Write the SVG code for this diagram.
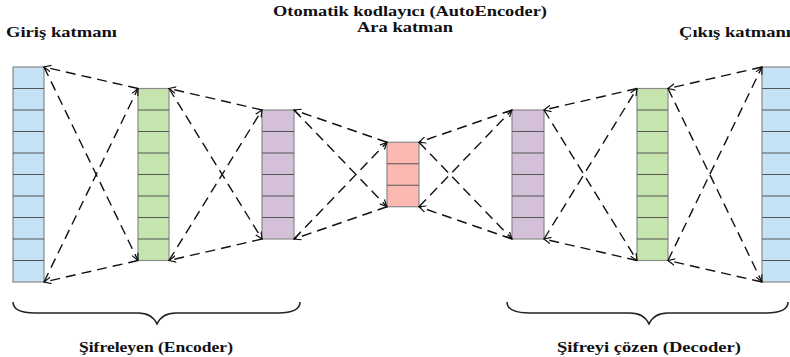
<svg xmlns="http://www.w3.org/2000/svg" width="790" height="357" viewBox="0 0 790 357">
<style>
text{font-family:"Liberation Serif","Times New Roman",serif;font-weight:bold;font-size:14px;fill:#111}
.cell{stroke:#8a8a8a;stroke-width:1.2}
.div{stroke:#555;stroke-width:1}
.blue{fill:#c3e2f5}.green{fill:#c6e5ae}.purple{fill:#d5c0d9}.red{fill:#fbb9b1}
.dash{stroke:#111;stroke-width:1.4;stroke-dasharray:10 6;fill:none;marker-end:url(#ah)}
.brace{fill:none;stroke:#222;stroke-width:1.5}
</style>
<defs>
<marker id="ah" markerWidth="8" markerHeight="8" refX="7" refY="4" orient="auto" markerUnits="userSpaceOnUse">
<path d="M0,0.8 L7,4 L0,7.2" fill="none" stroke="#111" stroke-width="1.2"/>
</marker>
</defs>
<g id="title">
<text x="273" y="16" textLength="274" lengthAdjust="spacingAndGlyphs">Otomatik kodlayıcı (AutoEncoder)</text>
<text x="357" y="32" textLength="96" lengthAdjust="spacingAndGlyphs">Ara katman</text>
</g>
<g id="input-label"><text x="6" y="37" textLength="111" lengthAdjust="spacingAndGlyphs">Giriş katmanı</text></g>
<g id="output-label"><text x="679" y="37" textLength="112" lengthAdjust="spacingAndGlyphs">Çıkış katmanı</text></g>
<g id="layer-input">
<rect class="cell blue" x="13" y="67" width="31" height="215"/>
<path class="div" d="M13,88.5H44M13,110H44M13,131.5H44M13,153H44M13,174.5H44M13,196H44M13,217.5H44M13,239H44M13,260.5H44"/>
</g>
<g id="layer-enc1">
<rect class="cell green" x="138" y="88.5" width="31" height="172"/>
<path class="div" d="M138,110H169M138,131.5H169M138,153H169M138,174.5H169M138,196H169M138,217.5H169M138,239H169"/>
</g>
<g id="layer-enc2">
<rect class="cell purple" x="262" y="110" width="32" height="129"/>
<path class="div" d="M262,131.5H294M262,153H294M262,174.5H294M262,196H294M262,217.5H294"/>
</g>
<g id="layer-code">
<rect class="cell red" x="387" y="142.25" width="32" height="64.5"/>
<path class="div" d="M387,163.75H419M387,185.25H419"/>
</g>
<g id="layer-dec1">
<rect class="cell purple" x="512" y="110" width="32" height="129"/>
<path class="div" d="M512,131.5H544M512,153H544M512,174.5H544M512,196H544M512,217.5H544"/>
</g>
<g id="layer-dec2">
<rect class="cell green" x="637" y="88.5" width="31" height="172"/>
<path class="div" d="M637,110H668M637,131.5H668M637,153H668M637,174.5H668M637,196H668M637,217.5H668M637,239H668"/>
</g>
<g id="layer-output">
<rect class="cell blue" x="762" y="67" width="31" height="215"/>
<path class="div" d="M762,88.5H793M762,110H793M762,131.5H793M762,153H793M762,174.5H793M762,196H793M762,217.5H793M762,239H793M762,260.5H793"/>
</g>
<g id="connectors">
<path class="dash" d="M138,88.5L44,67"/>
<path class="dash" d="M138,260.5L44,282"/>
<path class="dash" d="M44,67L138,260.5"/>
<path class="dash" d="M44,282L138,88.5"/>
<path class="dash" d="M262,110L169,88.5"/>
<path class="dash" d="M262,239L169,260.5"/>
<path class="dash" d="M169,88.5L262,239"/>
<path class="dash" d="M169,260.5L262,110"/>
<path class="dash" d="M387,142.25L294,110"/>
<path class="dash" d="M387,206.75L294,239"/>
<path class="dash" d="M294,110L387,206.75"/>
<path class="dash" d="M294,239L387,142.25"/>
<path class="dash" d="M512,110L419,142.25"/>
<path class="dash" d="M512,239L419,206.75"/>
<path class="dash" d="M419,142.25L512,239"/>
<path class="dash" d="M419,206.75L512,110"/>
<path class="dash" d="M637,88.5L544,110"/>
<path class="dash" d="M637,260.5L544,239"/>
<path class="dash" d="M544,110L637,260.5"/>
<path class="dash" d="M544,239L637,88.5"/>
<path class="dash" d="M762,67L668,88.5"/>
<path class="dash" d="M762,282L668,260.5"/>
<path class="dash" d="M668,88.5L762,282"/>
<path class="dash" d="M668,260.5L762,67"/>
</g>
<g id="encoder-brace">
<path class="brace" d="M13,302Q13,313 35,313L138,313Q152,313 157,324Q162,313 176,313L278,313Q300,313 300,302"/>
<text x="79" y="352" textLength="154" lengthAdjust="spacingAndGlyphs">Şifreleyen (Encoder)</text>
</g>
<g id="decoder-brace">
<path class="brace" d="M507,302Q507,313 529,313L630,313Q644,313 649,324Q654,313 668,313L766,313Q788,313 788,302"/>
<text x="557" y="352" textLength="184" lengthAdjust="spacingAndGlyphs">Şifreyi çözen (Decoder)</text>
</g>
</svg>
